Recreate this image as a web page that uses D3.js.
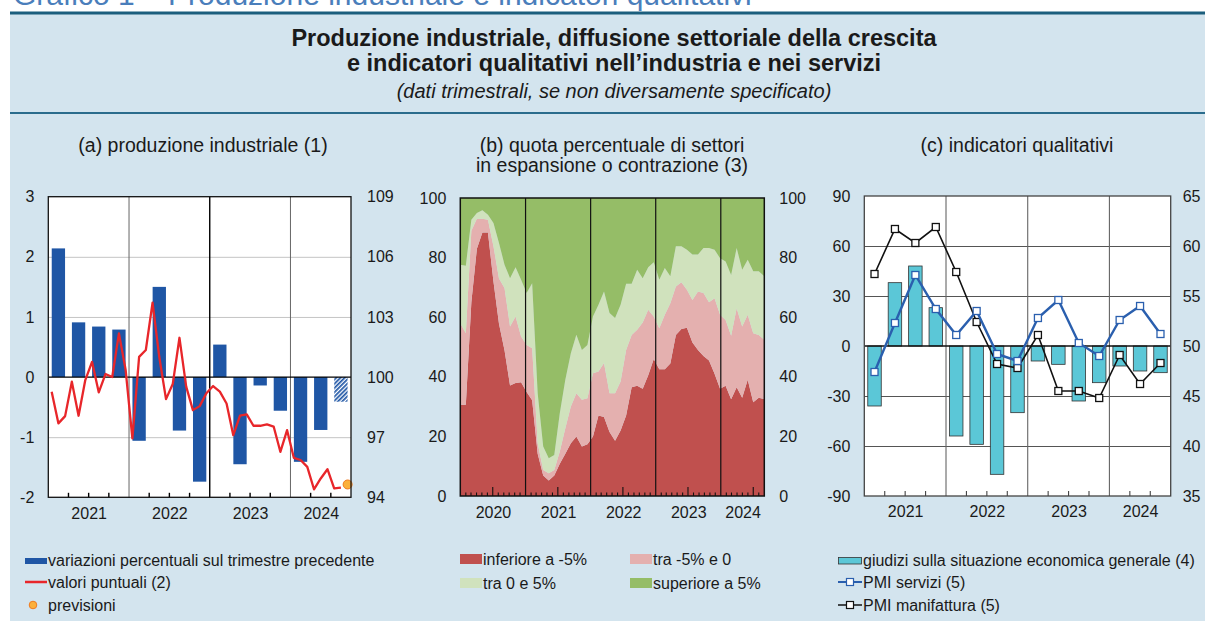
<!DOCTYPE html>
<meta charset="utf-8">
<head>
    <title>Produzione industriale e indicatori qualitativi</title>
    <script src="https://cdn.jsdelivr.net/npm/d3@7"></script>
    <style>
        html, body { margin: 0; padding: 0; background: #fff; }
        body { width: 1205px; height: 621px; overflow: hidden; }
        text { font-family: "Liberation Sans", Arial, sans-serif; fill: #1a1a1a; }
    </style>
</head>
<body>
<div id="chart"></div>
<script>
    // ---- data ----
    // panel (a): quarters 2021 T1 - 2024 T3
    var quarters = ["2021T1","2021T2","2021T3","2021T4","2022T1","2022T2","2022T3","2022T4",
                    "2023T1","2023T2","2023T3","2023T4","2024T1","2024T2","2024T3"];
    var years = ["2021","2022","2023","2024"];
    var prodQoQ = [2.14, 0.91, 0.84, 0.79, -1.06, 1.50, -0.89, -1.74, 0.54, -1.45, -0.14, -0.56, -1.41, -0.88, -0.41];
    var forecastQuarter = "2024T3";
    // monthly index, Jan 2021 - Aug 2024
    var prodMonthly = [99.27, 97.69, 98.05, 99.77, 98.07, 99.85, 100.76, 99.24, 100.15, 100.0, 102.18, 100.35,
                       96.94, 101.01, 101.35, 103.71, 101.0, 98.9, 99.65, 101.96, 99.52, 98.35, 98.55, 99.19,
                       99.55, 99.27, 98.68, 97.1, 98.07, 98.14, 97.57, 97.57, 97.64, 97.53, 96.27, 97.35,
                       95.97, 95.86, 95.52, 94.4, 94.94, 95.4, 94.44, 94.48];
    var prodForecast = 94.64;   // Sep 2024
    var ticksA_left = [-2, -1, 0, 1, 2, 3];
    var ticksA_right = [94, 97, 100, 103, 106, 109];

    // panel (b): monthly shares, Jan 2020 - Aug 2024
    var yearsB = ["2020","2021","2022","2023","2024"];
    var shareBelow5 = [30.6,30.6,65,83,88.4,88.4,72,57.8,48.9,37.1,37.9,38.2,
                       34.9,32.1,14.2,6.9,5.2,6.9,10.8,14.2,17.7,20,16.6,17.4,
                       20,27,26.5,21.5,18.5,22,27,36.5,37,36,40.5,46,
                       42.5,42.5,44.5,54,56,56.5,51.5,49,47,45.5,41,36,
                       37,32.5,36.5,33,39,31.5,33,32.5];
    var shareNeg = [27.4,24,24,10,4.6,4.3,11.8,15.2,20.9,19.8,22.3,15.3,
                    15.8,17.5,3.5,1.8,2.4,1.8,4.1,8.5,12.3,14.5,15.7,15.4,
                    21.2,14.8,18.1,13,16,16.4,22,17.5,18.8,22.2,22,14.2,
                    13.8,18.3,20.2,16.3,15.7,12.7,14.3,19.6,21.1,19.5,25.4,24.8,
                    22.1,21.3,26.5,23.9,21.8,23.1,21,19.9];
    var sharePos = [19.6,22.7,3.7,2,2.9,1.7,7.8,11.9,7.8,16.2,16.6,19.1,
                    17.4,21.8,16.8,7.9,5.1,5.1,12.9,16.3,17.9,19.6,16.7,17.9,
                    19,22.4,24,26.9,25.2,25.8,22.2,17.2,20.1,14.9,14.3,18.2,
                    16.3,15.7,9,13.5,12.1,13.4,15.2,12.4,15.1,18.2,16.2,19,
                    19.6,20.4,20.2,19,18.5,20.8,21.4,21.3];
    var shareAbove5 = [22.4,22.7,7.3,5,4.1,5.6,8.4,15.1,22.4,26.9,23.2,27.4,
                       31.9,28.6,65.5,83.4,87.3,86.2,72.2,61,52.1,45.9,51,49.3,
                       39.8,35.8,31.4,38.6,40.3,35.8,28.8,28.8,24.1,26.9,23.2,21.6,
                       27.4,23.5,26.3,16.2,16.2,17.4,19,19,16.8,16.8,17.4,20.2,
                       21.3,25.8,16.8,24.1,20.7,24.6,24.6,26.3];
    var ticksB = [0, 20, 40, 60, 80, 100];

    // panel (c): quarterly
    var giudizi = [-36, 38, 48, 23, -54, -59, -77, -40, -9, -11, -33, -22, -12, -15, -16];
    var pmiServizi = [47.4, 52.3, 57.1, 53.7, 51.1, 53.5, 49.2, 48.5, 52.8, 54.6, 50.3, 49.0, 52.6, 54.0, 51.2];
    var pmiManifattura = [57.2, 61.7, 60.3, 61.9, 57.4, 52.4, 48.2, 47.8, 51.1, 45.5, 45.5, 44.8, 49.1, 46.2, 48.3];
    var ticksC_left = [-90, -60, -30, 0, 30, 60, 90];
    var ticksC_right = [35, 40, 45, 50, 55, 60, 65];

    // ---- svg and frame ----
    var svg = d3.select("#chart").append("svg").attr("width", 1205).attr("height", 621);
    var bg = "#d3e4ee";

    svg.append("rect").attr("x", 10).attr("y", 12).attr("width", 1195).attr("height", 609).attr("fill", bg);
    svg.append("rect").attr("x", 10).attr("y", 11.5).attr("width", 1195).attr("height", 3).attr("fill", "#1b5e7d");
    svg.append("rect").attr("x", 10).attr("y", 112).attr("width", 1195).attr("height", 2).attr("fill", "#2a6c8c");

    // heading of the page, only its lower part is visible
    svg.append("text").attr("x", 13).attr("y", 5).style("font-size", "30px").style("fill", "#4a7ebb")
        .text("Grafico 1 – Produzione industriale e indicatori qualitativi");

    svg.append("text").attr("x", 614).attr("y", 46).attr("text-anchor", "middle")
        .style("font-size", "23.5px").style("font-weight", "bold")
        .text("Produzione industriale, diffusione settoriale della crescita");
    svg.append("text").attr("x", 614).attr("y", 71).attr("text-anchor", "middle")
        .style("font-size", "23.5px").style("font-weight", "bold")
        .text("e indicatori qualitativi nell\u2019industria e nei servizi");
    svg.append("text").attr("x", 614).attr("y", 98).attr("text-anchor", "middle")
        .style("font-size", "20px").style("font-style", "italic")
        .text("(dati trimestrali, se non diversamente specificato)");

    function styleLabels(g) {
        g.select(".domain").remove();
        g.selectAll("text").style("font-size", "16px").style("font-family", "'Liberation Sans', Arial, sans-serif").attr("fill", "#1a1a1a");
    }

    // ================= panel (a) =================
    var A = {x0: 48.3, x1: 351, y0: 196.7, y1: 497.3};
    var gA = svg.append("g");
    svg.append("text").attr("x", 203).attr("y", 152).attr("text-anchor", "middle").style("font-size", "19.5px")
        .text("(a) produzione industriale (1)");

    var xqA = d3.scaleBand().domain(quarters).range([A.x0, A.x1]).paddingInner(0.34).paddingOuter(0.17);
    var xmA = d3.scaleLinear().domain([0, 45]).range([A.x0, A.x1]);
    var yA = d3.scaleLinear().domain([-2, 3]).range([A.y1, A.y0]);
    var yA2 = d3.scaleLinear().domain([94, 109]).range([A.y1, A.y0]);

    gA.append("rect").attr("x", A.x0).attr("y", A.y0).attr("width", A.x1 - A.x0).attr("height", A.y1 - A.y0).attr("fill", "#fff");

    gA.append("g").attr("transform", "translate(" + A.x0 + ",0)")
        .call(d3.axisLeft(yA).tickValues([-1, 1, 2]).tickSize(-(A.x1 - A.x0)).tickFormat(""))
        .call(g => g.select(".domain").remove())
        .selectAll("line").attr("stroke", "#c4c4c4");

    [12, 24, 36].forEach(function(m, i) {
        gA.append("line").attr("x1", xmA(m)).attr("x2", xmA(m)).attr("y1", A.y0).attr("y2", A.y1)
            .attr("stroke", i === 1 ? "#000" : "#666").attr("stroke-width", i === 1 ? 1.4 : 1);
    });

    var defs = svg.append("defs");
    var pat = defs.append("pattern").attr("id", "hatch").attr("patternUnits", "userSpaceOnUse")
        .attr("width", 3).attr("height", 3).attr("patternTransform", "rotate(45)");
    pat.append("rect").attr("width", 3).attr("height", 3).attr("fill", "#fff");
    pat.append("rect").attr("width", 1.7).attr("height", 3).attr("fill", "#1f56a5");

    gA.selectAll(".bar").data(prodQoQ).join("rect").attr("class", "bar")
        .attr("x", (d, i) => xqA(quarters[i]))
        .attr("width", xqA.bandwidth())
        .attr("y", d => yA(Math.max(0, d)))
        .attr("height", d => Math.abs(yA(d) - yA(0)))
        .attr("fill", (d, i) => quarters[i] === forecastQuarter ? "url(#hatch)" : "#1f56a5");

    gA.append("line").attr("x1", A.x0).attr("x2", A.x1).attr("y1", yA(0)).attr("y2", yA(0)).attr("stroke", "#000").attr("stroke-width", 1.2);

    // quarter ticks
    d3.range(3, 45, 3).filter(m => m % 12 !== 0).forEach(function(m) {
        gA.append("line").attr("x1", xmA(m)).attr("x2", xmA(m)).attr("y1", A.y1).attr("y2", A.y1 - 4.5)
            .attr("stroke", "#000").attr("stroke-width", 1.4);
    });

    var redLine = d3.line().x((d, i) => xmA(i + 0.5)).y(d => yA2(d));
    gA.append("path").datum(prodMonthly).attr("d", redLine).attr("fill", "none")
        .attr("stroke", "#e8262a").attr("stroke-width", 2.3).attr("stroke-linejoin", "round");
    gA.append("circle").attr("cx", xmA(prodMonthly.length + 0.5)).attr("cy", yA2(prodForecast)).attr("r", 4.5)
        .attr("fill", "#fbb03b").attr("stroke", "#f07a1e").attr("stroke-width", 1);

    gA.append("rect").attr("x", A.x0).attr("y", A.y0).attr("width", A.x1 - A.x0).attr("height", A.y1 - A.y0)
        .attr("fill", "none").attr("stroke", "#111").attr("stroke-width", 1.3);

    gA.append("g").attr("transform", "translate(" + A.x0 + ",0)")
        .call(d3.axisLeft(yA).tickValues(ticksA_left).tickSize(0).tickPadding(14).tickFormat(d => String(d)))
        .call(styleLabels);
    gA.append("g").attr("transform", "translate(" + A.x1 + ",0)")
        .call(d3.axisRight(yA2).tickValues(ticksA_right).tickSize(0).tickPadding(16).tickFormat(d => String(d)))
        .call(styleLabels);
    gA.append("g").attr("transform", "translate(0," + A.y1 + ")")
        .call(d3.axisBottom(xmA).tickValues([6, 18, 30, 40.5]).tickSize(0).tickPadding(10)
            .tickFormat((d, i) => years[i]))
        .call(styleLabels);

    // ================= panel (b) =================
    var B = {x0: 460.3, x1: 764.3, y0: 198, y1: 496};
    var gB = svg.append("g");
    svg.append("text").attr("x", 612).attr("y", 152).attr("text-anchor", "middle").style("font-size", "19.5px")
        .text("(b) quota percentuale di settori");
    svg.append("text").attr("x", 612).attr("y", 172).attr("text-anchor", "middle").style("font-size", "19.5px")
        .text("in espansione o contrazione (3)");

    var xiB = d3.scaleLinear().domain([0, shareBelow5.length - 1]).range([B.x0, B.x1]);
    var xtB = d3.scaleTime().domain([new Date(2020, 0, 1), new Date(2024, 8, 1)]).range([B.x0, B.x1]);
    var yB = d3.scaleLinear().domain([0, 100]).range([B.y1, B.y0]);

    var tableB = shareBelow5.map((d, i) => ({below: d, neg: shareNeg[i], pos: sharePos[i], above: shareAbove5[i]}));
    var keysB = ["below", "neg", "pos", "above"];
    var colorsB = {below: "#c0504e", neg: "#e4b0af", pos: "#d0e2bd", above: "#95bd67"};
    var stackB = d3.stack().keys(keysB)(tableB);
    var areaB = d3.area().x((d, i) => xiB(i)).y0(d => yB(d[0])).y1(d => yB(d[1]));

    gB.selectAll(".band").data(stackB).join("path").attr("class", "band")
        .attr("d", areaB).attr("fill", d => colorsB[d.key]);

    d3.range(2021, 2025).forEach(function(y) {
        var x = xtB(new Date(y, 0, 1));
        gB.append("line").attr("x1", x).attr("x2", x).attr("y1", B.y0).attr("y2", B.y1)
            .attr("stroke", "#111").attr("stroke-width", 1.2);
    });
    d3.timeMonth.range(new Date(2020, 1, 1), new Date(2024, 8, 1)).filter(d => d.getMonth() !== 0).forEach(function(d) {
        var x = xtB(d);
        gB.append("line").attr("x1", x).attr("x2", x).attr("y1", B.y1).attr("y2", B.y1 - (d.getMonth() === 6 ? 9 : 3.5))
            .attr("stroke", "#111").attr("stroke-width", 1.1);
    });
    gB.append("rect").attr("x", B.x0).attr("y", B.y0).attr("width", B.x1 - B.x0).attr("height", B.y1 - B.y0)
        .attr("fill", "none").attr("stroke", "#111").attr("stroke-width", 1.5);

    gB.append("g").attr("transform", "translate(" + B.x0 + ",0)")
        .call(d3.axisLeft(yB).tickValues(ticksB).tickSize(0).tickPadding(14).tickFormat(d => String(d)))
        .call(styleLabels);
    gB.append("g").attr("transform", "translate(" + B.x1 + ",0)")
        .call(d3.axisRight(yB).tickValues(ticksB).tickSize(0).tickPadding(15).tickFormat(d => String(d)))
        .call(styleLabels);
    var midsB = yearsB.map(function(y) {
        var a = new Date(+y, 0, 1), b = +y === 2024 ? new Date(2024, 8, 1) : new Date(+y + 1, 0, 1);
        return new Date((a.getTime() + b.getTime()) / 2);
    });
    gB.append("g").attr("transform", "translate(0," + B.y1 + ")")
        .call(d3.axisBottom(xtB).tickValues(midsB).tickSize(0).tickPadding(11).tickFormat((d, i) => yearsB[i]))
        .call(styleLabels);

    // ================= panel (c) =================
    var C = {x0: 864.3, x1: 1170.7, y0: 196, y1: 496};
    var gC = svg.append("g");
    svg.append("text").attr("x", 1017).attr("y", 152).attr("text-anchor", "middle").style("font-size", "19.5px")
        .text("(c) indicatori qualitativi");

    var xqC = d3.scaleBand().domain(quarters).range([C.x0, C.x1]).paddingInner(0.34).paddingOuter(0.17);
    var xcC = d3.scaleLinear().domain([0, 15]).range([C.x0, C.x1]);
    var yC = d3.scaleLinear().domain([-90, 90]).range([C.y1, C.y0]);
    var yC2 = d3.scaleLinear().domain([35, 65]).range([C.y1, C.y0]);

    gC.append("rect").attr("x", C.x0).attr("y", C.y0).attr("width", C.x1 - C.x0).attr("height", C.y1 - C.y0).attr("fill", "#fff");

    gC.append("g").attr("transform", "translate(" + C.x0 + ",0)")
        .call(d3.axisLeft(yC).tickValues([-60, -30, 30, 60]).tickSize(-(C.x1 - C.x0)).tickFormat(""))
        .call(g => g.select(".domain").remove())
        .selectAll("line").attr("stroke", "#555").attr("stroke-width", 1.1);
    [4, 8, 12].forEach(function(q) {
        gC.append("line").attr("x1", xcC(q)).attr("x2", xcC(q)).attr("y1", C.y0).attr("y2", C.y1)
            .attr("stroke", "#666").attr("stroke-width", 1.1);
    });

    gC.selectAll(".bar").data(giudizi).join("rect").attr("class", "bar")
        .attr("x", (d, i) => xqC(quarters[i]))
        .attr("width", xqC.bandwidth())
        .attr("y", d => yC(Math.max(0, d)))
        .attr("height", d => Math.abs(yC(d) - yC(0)))
        .attr("fill", "#5bc7d7").attr("stroke", "#333").attr("stroke-width", 0.8);

    gC.append("line").attr("x1", C.x0).attr("x2", C.x1).attr("y1", yC(0)).attr("y2", yC(0)).attr("stroke", "#111").attr("stroke-width", 1.3);

    d3.range(1, 15).filter(q => q % 4 !== 0).forEach(function(q) {
        gC.append("line").attr("x1", xcC(q)).attr("x2", xcC(q)).attr("y1", C.y1).attr("y2", C.y1 - 5)
            .attr("stroke", "#444").attr("stroke-width", 1.1);
    });

    var pmiLine = d3.line().x((d, i) => xcC(i + 0.5)).y(d => yC2(d));
    function drawPmi(values, color, width) {
        gC.append("path").datum(values).attr("d", pmiLine).attr("fill", "none")
            .attr("stroke", color).attr("stroke-width", width);
        gC.selectAll(null).data(values).join("rect")
            .attr("x", (d, i) => xcC(i + 0.5) - 3.5).attr("y", d => yC2(d) - 3.5)
            .attr("width", 7).attr("height", 7)
            .attr("fill", "#fff").attr("stroke", color).attr("stroke-width", 1.3);
    }
    drawPmi(pmiManifattura, "#111", 1.6);
    drawPmi(pmiServizi, "#2a5fae", 2.4);

    gC.append("rect").attr("x", C.x0).attr("y", C.y0).attr("width", C.x1 - C.x0).attr("height", C.y1 - C.y0)
        .attr("fill", "none").attr("stroke", "#444").attr("stroke-width", 1.3);

    gC.append("g").attr("transform", "translate(" + C.x0 + ",0)")
        .call(d3.axisLeft(yC).tickValues(ticksC_left).tickSize(0).tickPadding(14).tickFormat(d => String(d)))
        .call(styleLabels);
    gC.append("g").attr("transform", "translate(" + C.x1 + ",0)")
        .call(d3.axisRight(yC2).tickValues(ticksC_right).tickSize(0).tickPadding(12).tickFormat(d => String(d)))
        .call(styleLabels);
    gC.append("g").attr("transform", "translate(0," + C.y1 + ")")
        .call(d3.axisBottom(xcC).tickValues([2, 6, 10, 13.5]).tickSize(0).tickPadding(10)
            .tickFormat((d, i) => years[i]))
        .call(styleLabels);

    // ================= legends =================
    var leg = svg.append("g").style("font-size", "16px");
    function legText(x, y, t) {
        leg.append("text").attr("x", x).attr("y", y).attr("dy", "0.35em").text(t);
    }
    // (a)
    leg.append("rect").attr("x", 25).attr("y", 558).attr("width", 22).attr("height", 6).attr("fill", "#1f56a5");
    legText(48, 560, "variazioni percentuali sul trimestre precedente");
    leg.append("line").attr("x1", 25).attr("x2", 47).attr("y1", 582).attr("y2", 582).attr("stroke", "#e8262a").attr("stroke-width", 2.5);
    legText(48, 582, "valori puntuali (2)");
    leg.append("circle").attr("cx", 33).attr("cy", 605).attr("r", 3.8).attr("fill", "#fbb03b").attr("stroke", "#f07a1e");
    legText(48, 605, "previsioni");
    // (b)
    var legB = [["below", "inferiore a -5%", 460, 559], ["neg", "tra -5% e 0", 630, 559],
                ["pos", "tra 0 e 5%", 460, 583], ["above", "superiore a 5%", 630, 583]];
    legB.forEach(function(l) {
        leg.append("rect").attr("x", l[2]).attr("y", l[3] - 5).attr("width", 22).attr("height", 10).attr("fill", colorsB[l[0]]);
        legText(l[2] + 23, l[3], l[1]);
    });
    // (c)
    leg.append("rect").attr("x", 838.5).attr("y", 557.5).attr("width", 23).attr("height", 6.5)
        .attr("fill", "#5bc7d7").attr("stroke", "#333").attr("stroke-width", 0.8);
    legText(863, 560, "giudizi sulla situazione economica generale (4)");
    [["#2a5fae", 582, "PMI servizi (5)", 2], ["#111", 605, "PMI manifattura (5)", 1.5]].forEach(function(l) {
        leg.append("line").attr("x1", 838).attr("x2", 862).attr("y1", l[1]).attr("y2", l[1]).attr("stroke", l[0]).attr("stroke-width", l[3]);
        leg.append("rect").attr("x", 846.5).attr("y", l[1] - 3.5).attr("width", 7).attr("height", 7)
            .attr("fill", "#fff").attr("stroke", l[0]).attr("stroke-width", 1.2);
        legText(863, l[1], l[2]);
    });
</script>
</body>
</html>
